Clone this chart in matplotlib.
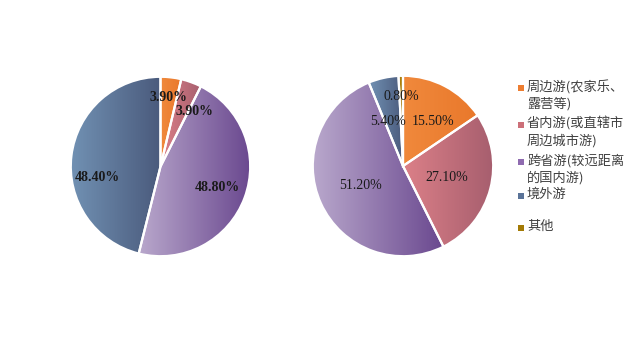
import numpy as np
import matplotlib
matplotlib.use("Agg")
import matplotlib.pyplot as plt
from matplotlib.colors import LinearSegmentedColormap

plt.rcParams['font.family'] = ['Noto Sans CJK SC', 'DejaVu Sans']

categories = ["周边游(农家乐、\n露营等)", "省内游(或直辖市\n周边城市游)", "跨省游(较远距离\n的国内游)", "境外游", "其他"]
left_values = [3.9, 3.9, 48.8, 48.4]
right_values = [15.5, 27.1, 51.2, 5.4, 0.8]
left_labels = ["3.90%", "3.90%", "48.80%", "48.40%"]
right_labels = ["15.50%", "27.10%", "51.20%", "5.40%", "0.80%"]

# light -> dark horizontal gradient per category
gradients = [("#F0893C", "#E9782B"),
             ("#DC8088", "#A65E6E"),
             ("#B9A8CC", "#6A488F"),
             ("#7191B3", "#4A5A7C"),
             ("#C0900F", "#9A7005")]
legend_colors = ["#ED7D31", "#CC7079", "#8F6BB0", "#5A7398", "#A37A05"]

W, H = 634, 341
fig = plt.figure(figsize=(W / 100, H / 100), dpi=100)
fig.patch.set_facecolor("white")


def pie_axes(cx, cy, r):
    return fig.add_axes([(cx - r) / W, (H - cy - r) / H, 2 * r / W, 2 * r / H])


def gradient_pie(ax, values, labels, label_r, serif_weight):
    wedges, _ = ax.pie(values, startangle=90, counterclock=False, radius=1,
                       wedgeprops=dict(edgecolor="white", linewidth=1.6))
    total = sum(values)
    for i, w in enumerate(wedges):
        t1, t2 = np.deg2rad(w.theta1), np.deg2rad(w.theta2)
        th = np.linspace(t1, t2, 100)
        xs = np.concatenate([[0], np.cos(th)])
        ys = np.concatenate([[0], np.sin(th)])
        x0, x1, y0, y1 = xs.min(), xs.max(), ys.min(), ys.max()
        cmap = LinearSegmentedColormap.from_list("g%d" % i, gradients[i])
        grad = np.linspace(0, 1, 256).reshape(1, -1)
        im = ax.imshow(grad, cmap=cmap, extent=[x0, x1, y0, y1], aspect="auto",
                       zorder=1, interpolation="bilinear")
        im.set_clip_path(w)
        w.set_facecolor("none")
        w.set_zorder(3)
        mid = np.deg2rad((w.theta1 + w.theta2) / 2)
        rr = label_r[i]
        ang = mid + np.deg2rad(label_shift.get((id(ax), i), 0))
        ax.text(rr * np.cos(ang), rr * np.sin(ang), labels[i], ha="center", va="center",
                fontsize=10, family=["Liberation Serif"], weight=serif_weight,
                color="#1a1a1a", zorder=4)
    ax.set_xlim(-1.02, 1.02)
    ax.set_ylim(-1.02, 1.02)
    ax.set_aspect("equal")
    ax.axis("off")


label_shift = {}
axL = pie_axes(160.5, 166.5, 91.5)
axR = pie_axes(403, 166, 92)
label_shift[(id(axL), 1)] = -12
label_shift[(id(axL), 3)] = 17
label_shift[(id(axR), 0)] = -6
label_shift[(id(axR), 3)] = 6

gradient_pie(axL, left_values, left_labels, [0.77, 0.72, 0.68, 0.72], "bold")
gradient_pie(axR, right_values, right_labels, [0.59, 0.5, 0.52, 0.52, 0.77], "normal")

# legend
marker_y = [88, 125, 162, 196, 228]
for c, lab, y in zip(legend_colors, categories, marker_y):
    fig.patches.append(plt.Rectangle(((517.5) / W, (H - y - 3) / H), 6 / W, 6 / H,
                                     transform=fig.transFigure, facecolor=c,
                                     edgecolor="none"))
    fig.text(527 / W, (H - y + 8) / H, lab, ha="left", va="top", fontsize=9.5,
             color="#404040", linespacing=1.25)

fig.savefig("out.png", dpi=100)
